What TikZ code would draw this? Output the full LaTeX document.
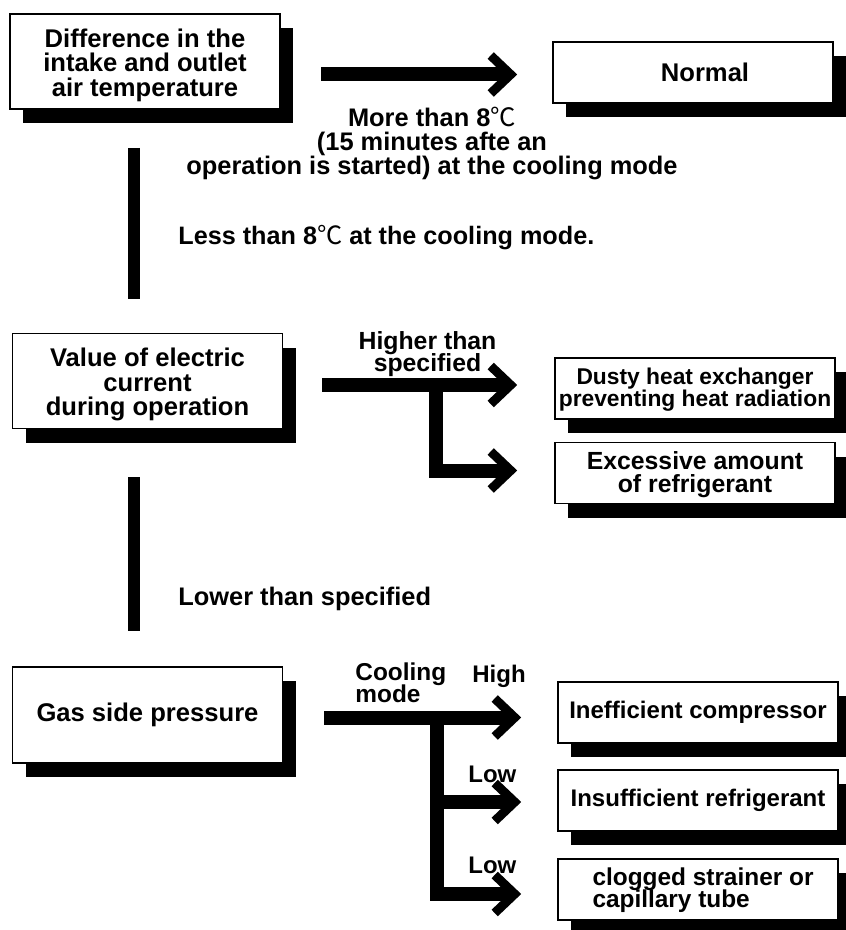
\documentclass[tikz,border=0pt]{standalone}
\usepackage{fontspec}
\setmainfont{Liberation Sans}
\newfontfamily\cjkfont{Noto Sans CJK SC}
\usetikzlibrary{positioning, arrows.meta, shadows}

\newcommand{\degC}{{\cjkfont\mdseries ℃}}
% font size, line distance
\newcommand{\fnt}[2]{\fontsize{#1}{#2}\selectfont\bfseries\lineskiplimit=-10pt\relax}
% pushes the text block down inside a box
\newcommand{\topgap}[1]{\rule{0pt}{#1}}

\tikzset{
  box/.style={draw, line width=0.8pt, fill=white, align=center, inner sep=0pt,
    font=\fnt{12.8}{12.2},
    drop shadow={shadow xshift=6.5pt, shadow yshift=-7pt, fill=black, opacity=1}},
  bigbox/.style={box, minimum width=135pt, minimum height=47.5pt},
  endbox/.style={box, minimum width=140pt, minimum height=30.5pt},
  lbl/.style={font=\fnt{12.7}{12}, inner sep=0pt},
  fat/.style={line width=7pt},
  bar/.style={line width=6.25pt},
  fatarrow/.style={fat, -{Straight Barb[length=10pt, width=19pt, line width=4.5pt, sharp]}},
}

\begin{document}
\begin{tikzpicture}[x=0.5pt, y=-0.5pt]
\useasboundingbox (0,0) rectangle (845,930);

% Checks on the left
\node[bigbox] (diff) at (145,61.5) {\topgap{12.8pt}Difference in the\\intake and outlet\\air temperature};
\node[bigbox] (current) at (147.5,381) {\topgap{12.8pt}Value of electric\\current\\during operation};
\node[bigbox, minimum height=48pt] (gas) at (147.5,715) {Gas side pressure};

% Results on the right
\node[endbox] (normal) at (693,72.5) {\hspace{12pt}Normal};
\node[endbox, font=\fnt{11.4}{11}] (dusty) at (695,388.5) {\topgap{9.9pt}Dusty heat exchanger\\preventing heat radiation};
\node[endbox, font=\fnt{12.4}{11.6}] (excess) at (695,473) {\topgap{10.4pt}Excessive amount\\of refrigerant};
\node[endbox, font=\fnt{12}{12}] (ineff) at (698,712.5) {Inefficient compressor};
\node[endbox, font=\fnt{12}{12}] (insuff) at (698,800.5) {Insufficient refrigerant};
\node[endbox, align=left, font=\fnt{12.2}{11}] (clog) at (698,889.5) {\topgap{9.6pt}\hspace{5pt}clogged strainer or\\\hspace{5pt}capillary tube};

% Bars down the left
\coordinate (vx) at (134,0);
\draw[bar, shorten <=19pt, shorten >=17pt] (diff.south -| vx) -- (current.north -| vx);
\draw[bar, shorten <=24pt, shorten >=17.5pt] (current.south -| vx) -- (gas.north -| vx);

% Top arrow
\coordinate (a1) at (321,74.5);
\draw[fatarrow, shorten >=17.5pt] (a1) -- (a1 -| normal.west);

% Middle arrows
\coordinate (a2) at (322,385);
\coordinate (j2) at (435.5,385);
\coordinate (k2) at (435.5,470.5);
\draw[fatarrow, shorten >=18.5pt] (a2) -- (a2 -| dusty.west);
\draw[fatarrow, line join=miter, shorten >=18.5pt] (j2) -- (k2) -- (k2 -| excess.west);

% Bottom arrows
\coordinate (a3) at (324,717.5);
\coordinate (j3) at (436.5,717.5);
\coordinate (k3) at (436.5,802);
\coordinate (m3) at (436.5,894);
\draw[fatarrow, shorten >=18pt] (a3) -- (a3 -| ineff.west);
\draw[fatarrow, shorten >=18pt] (k3) -- (k3 -| insuff.west);
\draw[fatarrow, line join=miter, shorten >=18pt] (j3) -- (m3) -- (m3 -| clog.west);

% Conditions
\node[lbl, align=center] (more) at (432,144) {More than 8\degC\\(15 minutes afte an\\operation is started) at the cooling mode};
\node[lbl, anchor=base west, font=\fnt{12.6}{12}] (less) at (178,245) {Less than 8\degC\ at the cooling mode.};
\node[lbl, align=center, font=\fnt{12.4}{11.2}] (higher) at (427.5,354) {Higher than\\specified};
\node[lbl, anchor=base west] (lower) at (178,605) {Lower than specified};
\node[lbl, align=left, anchor=west, font=\fnt{12.2}{11.2}] (cool) at (355,683) {Cooling\\mode};
\node[lbl, anchor=base west, font=\fnt{12}{12}] (high) at (472,682) {High};
\node[lbl, anchor=base west, font=\fnt{12}{12}] (low1) at (468,782) {Low};
\node[lbl, anchor=base west, font=\fnt{12}{12}] (low2) at (468,873) {Low};
\end{tikzpicture}
\end{document}
